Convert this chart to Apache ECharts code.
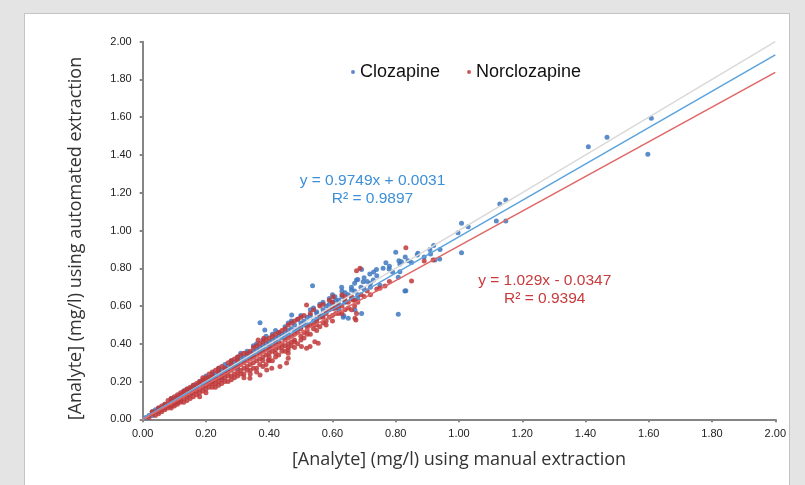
<!DOCTYPE html>
<html>
<head>
<meta charset="utf-8">
<script src="https://cdn.jsdelivr.net/npm/echarts@6/dist/echarts.min.js"></script>
<style>
html,body{margin:0;padding:0;background:#e4e4e4;}
#wrap{position:relative;width:805px;height:485px;overflow:hidden;}
#panel{position:absolute;left:24px;top:13px;width:766px;height:480px;background:#fff;border:1px solid #c4c4c4;box-sizing:border-box;}
#chart{position:absolute;left:0;top:0;width:789px;height:485px;}
</style>
</head>
<body>
<div id="wrap"><div id="panel"></div><div id="chart"></div></div>
<script>
var seriesNames = ['Clozapine', 'Norclozapine'];
var axisTicks = [0, 0.2, 0.4, 0.6, 0.8, 1.0, 1.2, 1.4, 1.6, 1.8, 2.0];

var clozapine = [
[0.01,0.01],[0.02,0.02],[0.03,0.02],[0.04,0.05],[0.05,0.04],[0.06,0.06],[0.07,0.08],[0.08,0.07],[0.09,0.10],[0.10,0.09],
[0.10,0.11],[0.11,0.12],[0.12,0.11],[0.12,0.13],[0.13,0.14],[0.14,0.13],[0.15,0.16],[0.15,0.14],[0.16,0.17],[0.17,0.16],
[0.17,0.18],[0.18,0.19],[0.19,0.18],[0.19,0.20],[0.20,0.21],[0.21,0.20],[0.21,0.22],[0.22,0.23],[0.23,0.22],[0.23,0.24],
[0.24,0.25],[0.25,0.24],[0.25,0.26],[0.26,0.27],[0.27,0.26],[0.27,0.28],[0.28,0.29],[0.29,0.28],[0.29,0.30],[0.30,0.31],
[0.30,0.29],[0.31,0.32],[0.32,0.31],[0.32,0.33],[0.33,0.34],[0.34,0.33],[0.34,0.35],[0.35,0.36],[0.35,0.34],[0.36,0.37],
[0.37,0.36],[0.37,0.38],[0.38,0.39],[0.38,0.37],[0.39,0.40],[0.40,0.41],[0.40,0.39],[0.41,0.42],[0.42,0.41],[0.42,0.43],
[0.43,0.44],[0.44,0.43],[0.44,0.45],[0.45,0.46],[0.46,0.45],[0.46,0.47],[0.47,0.48],[0.48,0.47],[0.48,0.50],[0.49,0.48],
[0.50,0.51],[0.50,0.49],[0.51,0.52],[0.52,0.50],[0.52,0.54],[0.53,0.55],[0.54,0.52],[0.55,0.56],[0.55,0.57],[0.56,0.55],
[0.57,0.58],[0.58,0.60],[0.58,0.57],[0.59,0.61],[0.60,0.59],[0.60,0.62],[0.61,0.60],[0.62,0.63],[0.62,0.61],[0.63,0.65],
[0.64,0.62],[0.65,0.66],[0.66,0.64],[0.67,0.68],[0.68,0.66],[0.69,0.70],[0.70,0.69],[0.72,0.70],
[1.608,1.594],[1.468,1.494],[1.409,1.444],[1.597,1.404],[1.129,1.140],[1.148,1.161],[1.118,1.050],[1.148,1.050],
[1.008,1.038],[1.029,1.020],[0.997,0.988],[1.008,0.882],[0.908,0.900],[0.910,0.876],[0.868,0.870],[0.939,0.849],
[0.924,0.844],[0.839,0.840],[0.800,0.885],[0.818,0.835],[0.769,0.829],[0.739,0.794],[0.779,0.796],[0.813,0.782],
[0.808,0.752],[0.829,0.680],[0.808,0.556],[0.718,0.770],[0.692,0.794],[0.729,0.738],[0.697,0.729],[0.676,0.738],
[0.629,0.699],[0.660,0.685],[0.608,0.649],[0.639,0.623],[0.671,0.579],[0.634,0.540],[0.692,0.561],[0.602,0.588],
[0.537,0.708],[0.371,0.512],[0.386,0.473],[0.471,0.552],[0.636,0.549],[0.650,0.535],[0.813,0.823],[0.832,0.681],
[0.03,0.04],[0.05,0.06],[0.07,0.07],[0.09,0.11],[0.11,0.10],[0.13,0.15],[0.14,0.16],[0.16,0.18],[0.18,0.20],[0.20,0.23],
[0.22,0.24],[0.24,0.27],[0.26,0.29],[0.28,0.31],[0.30,0.33],[0.31,0.35],[0.33,0.36],[0.35,0.39],[0.36,0.40],[0.38,0.42],
[0.39,0.44],[0.41,0.45],[0.42,0.47],[0.43,0.46],[0.45,0.49],[0.46,0.51],[0.47,0.52],[0.49,0.53],[0.50,0.55],[0.51,0.50],
[0.53,0.58],[0.54,0.59],[0.56,0.61],[0.57,0.62],[0.59,0.64],[0.60,0.66],[0.61,0.63],[0.63,0.68],[0.64,0.67],[0.66,0.70],
[0.67,0.72],[0.68,0.74],[0.70,0.75],[0.71,0.73],[0.73,0.78],[0.74,0.76],[0.76,0.80],[0.78,0.81],[0.79,0.78],[0.81,0.84],
[0.83,0.86],[0.85,0.83],[0.87,0.88],[0.89,0.86],[0.92,0.92],[0.94,0.90],[0.45,0.44],[0.40,0.37],[0.55,0.53],[0.62,0.58],
[0.68,0.64],[0.72,0.72],[0.75,0.71],[0.35,0.33],[0.30,0.27],[0.25,0.22],[0.57,0.55]
];

var norclozapine = [
[0.02,0.01],[0.03,0.03],[0.04,0.02],[0.04,0.04],[0.05,0.05],[0.05,0.03],[0.06,0.05],[0.06,0.07],[0.07,0.06],[0.07,0.05],
[0.08,0.08],[0.08,0.06],[0.09,0.09],[0.09,0.07],[0.10,0.08],[0.10,0.10],[0.10,0.12],[0.11,0.09],[0.11,0.11],[0.12,0.10],
[0.12,0.12],[0.12,0.14],[0.13,0.11],[0.13,0.13],[0.14,0.12],[0.14,0.15],[0.14,0.10],[0.15,0.13],[0.15,0.16],[0.16,0.14],
[0.16,0.12],[0.16,0.18],[0.17,0.15],[0.17,0.17],[0.18,0.16],[0.18,0.14],[0.18,0.19],[0.19,0.17],[0.19,0.21],[0.20,0.18],
[0.20,0.16],[0.20,0.20],[0.21,0.19],[0.21,0.22],[0.22,0.20],[0.22,0.17],[0.22,0.23],[0.23,0.21],[0.23,0.19],[0.24,0.22],
[0.24,0.25],[0.24,0.20],[0.25,0.23],[0.25,0.21],[0.26,0.24],[0.26,0.27],[0.26,0.22],[0.27,0.25],[0.27,0.20],[0.28,0.26],
[0.28,0.23],[0.28,0.29],[0.29,0.27],[0.29,0.24],[0.30,0.28],[0.30,0.25],[0.30,0.31],[0.31,0.29],[0.31,0.26],[0.32,0.30],
[0.32,0.27],[0.32,0.24],[0.33,0.31],[0.33,0.28],[0.34,0.32],[0.34,0.29],[0.34,0.26],[0.35,0.33],[0.35,0.30],[0.36,0.34],
[0.36,0.31],[0.36,0.27],[0.37,0.35],[0.37,0.32],[0.38,0.36],[0.38,0.33],[0.38,0.28],[0.39,0.37],[0.39,0.34],[0.40,0.38],
[0.40,0.35],[0.40,0.31],[0.41,0.39],[0.41,0.36],[0.42,0.40],[0.42,0.37],[0.42,0.33],[0.43,0.41],[0.43,0.38],[0.44,0.40],
[0.44,0.36],[0.45,0.42],[0.45,0.39],[0.46,0.43],[0.46,0.40],[0.46,0.35],[0.47,0.44],[0.47,0.41],[0.48,0.45],[0.48,0.42],
[0.48,0.38],[0.49,0.46],[0.50,0.44],[0.50,0.48],[0.51,0.46],[0.52,0.49],[0.52,0.45],[0.53,0.50],[0.54,0.48],[0.55,0.52],
[0.55,0.47],[0.56,0.54],[0.57,0.51],[0.58,0.56],[0.58,0.52],[0.59,0.58],[0.60,0.55],[0.61,0.59],[0.62,0.56],[0.63,0.60],
[0.65,0.62],[0.66,0.58],[0.67,0.63],[0.69,0.66],
[0.832,0.909],[0.890,0.838],[0.918,0.844],[0.676,0.787],[0.850,0.733],[0.639,0.649],[0.665,0.632],[0.750,0.694],
[0.766,0.706],[0.671,0.535],[0.676,0.561],[0.602,0.649],[0.434,0.279],[0.408,0.270],[0.397,0.314],[0.455,0.298],
[0.460,0.323],[0.518,0.376],[0.529,0.385],[0.674,0.526],[0.687,0.800],[0.383,0.429],[0.365,0.420],[0.604,0.588],
[0.544,0.411],[0.555,0.403],[0.502,0.385],[0.371,0.235],[0.339,0.217],[0.392,0.261],[0.460,0.367],[0.518,0.605],
[0.03,0.04],[0.05,0.06],[0.06,0.04],[0.07,0.08],[0.08,0.10],[0.09,0.06],[0.09,0.11],[0.10,0.07],[0.11,0.13],[0.11,0.08],
[0.12,0.09],[0.13,0.15],[0.13,0.09],[0.14,0.16],[0.15,0.11],[0.15,0.17],[0.16,0.15],[0.17,0.13],[0.17,0.19],[0.18,0.20],
[0.18,0.12],[0.19,0.15],[0.19,0.22],[0.20,0.14],[0.20,0.22],[0.21,0.17],[0.21,0.24],[0.22,0.19],[0.22,0.25],[0.23,0.17],
[0.23,0.26],[0.24,0.18],[0.24,0.27],[0.25,0.19],[0.25,0.28],[0.26,0.20],[0.26,0.25],[0.27,0.23],[0.27,0.30],[0.28,0.21],
[0.28,0.31],[0.29,0.22],[0.29,0.32],[0.30,0.23],[0.30,0.33],[0.31,0.24],[0.31,0.34],[0.32,0.22],[0.32,0.35],[0.33,0.26],
[0.33,0.35],[0.34,0.24],[0.34,0.36],[0.35,0.27],[0.35,0.38],[0.36,0.25],[0.36,0.39],[0.37,0.29],[0.37,0.40],[0.38,0.31],
[0.38,0.41],[0.39,0.29],[0.39,0.42],[0.40,0.33],[0.40,0.43],[0.41,0.31],[0.41,0.44],[0.42,0.35],[0.42,0.45],[0.43,0.34],
[0.43,0.46],[0.44,0.38],[0.44,0.47],[0.45,0.36],[0.45,0.48],[0.46,0.38],[0.46,0.50],[0.47,0.39],[0.47,0.51],[0.48,0.41],
[0.48,0.52],[0.49,0.40],[0.49,0.53],[0.50,0.42],[0.50,0.54],[0.51,0.43],[0.51,0.55],[0.52,0.47],[0.53,0.45],[0.53,0.56],
[0.54,0.50],[0.54,0.58],[0.55,0.50],[0.56,0.49],[0.56,0.60],[0.57,0.54],[0.57,0.61],[0.58,0.50],[0.59,0.54],[0.59,0.63],
[0.60,0.52],[0.60,0.62],[0.61,0.56],[0.62,0.60],[0.63,0.56],[0.63,0.66],[0.64,0.58],[0.64,0.63],[0.65,0.59],[0.66,0.65],
[0.67,0.60],[0.68,0.62],[0.70,0.65],[0.71,0.68],[0.72,0.66],[0.74,0.69],[0.78,0.73]
];

var identityLine = [[0, 0], [2, 2]];
var clozapineTrend = [[0, 0.0031], [2, 1.93]];
var norclozapineTrend = [[0, 0], [2, 1.838]];

var chart = echarts.init(document.getElementById('chart'), null, {renderer: 'canvas'});
var axisCommon = {
  type: 'value', min: 0, max: 2, interval: 0.2,
  splitLine: {show: false},
  axisLine: {show: true, lineStyle: {color: '#858585', width: 2}},
  axisTick: {show: true, length: 3, lineStyle: {color: '#858585', width: 2}},
  axisLabel: {color: '#222', fontFamily: 'Liberation Sans, Arial', fontSize: 11,
    formatter: function (v) { return v.toFixed(2); }},
  nameLocation: 'middle'
};
chart.setOption({
  animation: false,
  backgroundColor: 'transparent',
  grid: {left: 142.7, right: 13.3, top: 41.7, bottom: 65.7},
  legend: {
    data: seriesNames, left: 346, top: 58, icon: 'circle', itemWidth: 4, itemHeight: 4, itemGap: 27,
    textStyle: {fontFamily: 'Liberation Sans, Arial', fontSize: 18, color: '#111'}
  },
  xAxis: Object.assign({}, axisCommon, {name: '[Analyte] (mg/l) using manual extraction', nameGap: 32,
    nameTextStyle: {fontFamily: 'Open Sans', fontSize: 18, color: '#333'},
    axisLabel: Object.assign({}, axisCommon.axisLabel, {margin: 9})}),
  yAxis: Object.assign({}, axisCommon, {name: '[Analyte] (mg/l) using automated extraction', nameGap: 58,
    nameTextStyle: {fontFamily: 'Open Sans', fontSize: 18, color: '#333', padding: [0, 16, 0, 0]},
    axisLabel: Object.assign({}, axisCommon.axisLabel, {margin: 11})}),
  series: [
    {name: seriesNames[0], type: 'scatter', data: clozapine, symbolSize: 5,
      itemStyle: {color: '#3f78c0', opacity: 0.85}},
    {name: seriesNames[1], type: 'scatter', data: norclozapine, symbolSize: 5,
      itemStyle: {color: '#c0393b', opacity: 0.85}},
    {type: 'line', data: identityLine, symbol: 'none', lineStyle: {color: '#d9d9d9', width: 1.5}, z: 3},
    {type: 'line', data: clozapineTrend, symbol: 'none', lineStyle: {color: '#5ba3de', width: 1.5}, z: 3},
    {type: 'line', data: norclozapineTrend, symbol: 'none', lineStyle: {color: '#e06666', width: 1.5}, z: 3}
  ],
  graphic: [
    {type: 'text', x: 372.5, y: 190, style: {text: 'y = 0.9749x + 0.0031\nR² = 0.9897', fill: '#3d8fd8',
      font: '15.5px "Liberation Sans", Arial', align: 'center', verticalAlign: 'middle', lineHeight: 18}},
    {type: 'text', x: 544.7, y: 289.5, style: {text: 'y = 1.029x - 0.0347\nR² = 0.9394', fill: '#c83a3c',
      font: '15.5px "Liberation Sans", Arial', align: 'center', verticalAlign: 'middle', lineHeight: 18}}
  ]
});
</script>
</body>
</html>
